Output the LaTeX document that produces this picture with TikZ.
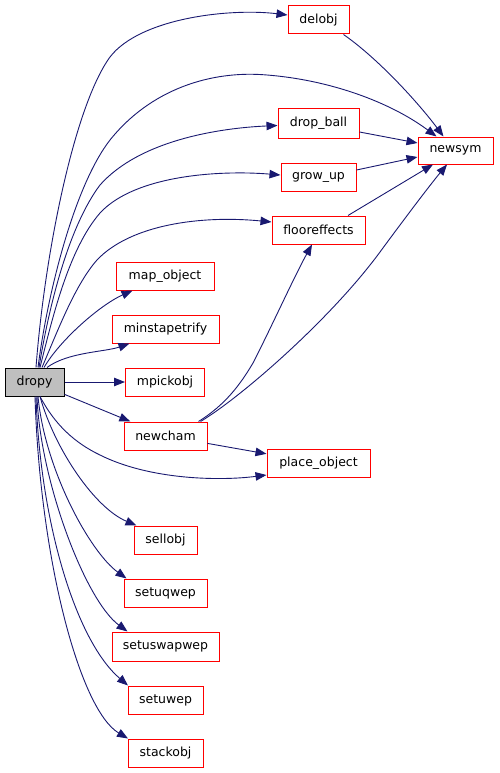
\documentclass[tikz,border=0pt]{standalone}
\usepackage{fontspec}
\setmainfont{DejaVu Sans}
\usetikzlibrary{arrows.meta}
\definecolor{edgeblue}{HTML}{191970}
\definecolor{boxgray}{HTML}{BFBFBF}
\begin{document}
\begin{tikzpicture}[x=1pt,y=-1pt,
  fn/.style={draw=red,line width=1pt,fill=white,inner sep=0pt,minimum height=28pt,font=\fontsize{12.5}{14}\selectfont},
  root/.style={draw=black,line width=1pt,fill=boxgray,inner sep=0pt,minimum height=28pt,font=\fontsize{12.5}{14}\selectfont},
  e/.style={draw=edgeblue,line width=0.9pt,-{Triangle[length=11pt,width=8.5pt]}}]
\useasboundingbox (0,0) rectangle (499,773);
% nodes
\node[root,minimum width=59pt] (dropy) at (34.5,382) {dropy};
\node[fn,minimum width=61pt] (delobj) at (318.5,20) {delobj};
\node[fn,minimum width=75pt,minimum height=27pt] (newsym) at (455.5,150.5) {newsym};
\node[fn,minimum width=81pt,minimum height=29pt] (drop_ball) at (318.5,123.5) {drop\_ball};
\node[fn,minimum width=75pt] (grow_up) at (318.5,177) {grow\_up};
\node[fn,minimum width=93pt] (flooreffects) at (318.5,230) {flooreffects};
\node[fn,minimum width=98pt] (map_object) at (165,276) {map\_object};
\node[fn,minimum width=107pt] (minstapetrify) at (165.5,329) {minstapetrify};
\node[fn,minimum width=79pt] (mpickobj) at (165,382) {mpickobj};
\node[fn,minimum width=83pt] (newcham) at (165.5,436) {newcham};
\node[fn,minimum width=103pt] (place_object) at (318.5,463) {place\_object};
\node[fn,minimum width=63pt] (sellobj) at (165.5,540) {sellobj};
\node[fn,minimum width=83pt] (setuqwep) at (165.5,593) {setuqwep};
\node[fn,minimum width=107pt,minimum height=29pt] (setuswapwep) at (165.5,646.5) {setuswapwep};
\node[fn,minimum width=75pt] (setuwep) at (165.5,700) {setuwep};
\node[fn,minimum width=75pt] (stackobj) at (165.5,753) {stackobj};
% edges from dropy (top fan)
\draw[e] ([xshift=1.5pt]dropy.north) .. controls (45,250) and (75,105) .. (110,57)
  .. controls (140,18) and (230,8) .. ([yshift=5pt]delobj.west);
\draw[e] ([xshift=3.5pt]dropy.north) .. controls (48,290) and (75,185) .. (110,140)
  .. controls (150,90) and (210,70) .. (267,75)
  .. controls (330,80) and (390,102) .. ([xshift=-19pt]newsym.north);
\draw[e] ([xshift=4.5pt]dropy.north) .. controls (50,300) and (70,225) .. (100,185)
  .. controls (140,140) and (220,128) .. ([yshift=-2pt]drop_ball.west);
\draw[e] ([xshift=5.5pt]dropy.north) .. controls (52,320) and (68,250) .. (100,213)
  .. controls (135,175) and (220,170) .. ([yshift=2pt]grow_up.west);
\draw[e] ([xshift=7.5pt]dropy.north) .. controls (58,330) and (75,285) .. (97,260)
  .. controls (130,225) and (200,215) .. ([yshift=8pt]flooreffects.west);
\draw[e] ([xshift=9.5pt]dropy.north) .. controls (60,340) and (100,305) .. ([xshift=17pt]map_object.south west);
\draw[e] ([xshift=12.5pt]dropy.north) .. controls (68,352) and (105,352) .. ([xshift=18pt]minstapetrify.south west);
\draw[e] (dropy) -- (mpickobj);
\draw[e] (dropy) -- (newcham);
% bottom fan
\draw[e] ([xshift=5.5pt]dropy.south) .. controls (55,425) and (75,443) .. (100,455)
  .. controls (150,480) and (220,481) .. ([yshift=-12pt]place_object.west);
\draw[e] ([xshift=5.5pt]dropy.south) .. controls (55,450) and (95,508) .. ([xshift=3pt]sellobj.north west);
\draw[e] ([xshift=3.5pt]dropy.south) .. controls (45,470) and (90,552) .. ([xshift=3pt]setuqwep.north west);
\draw[e] ([xshift=2.5pt]dropy.south) .. controls (40,480) and (85,600) .. ([xshift=16pt]setuswapwep.north west);
\draw[e] ([xshift=1.5pt]dropy.south) .. controls (40,520) and (75,640) .. ([xshift=0.5pt]setuwep.north west);
\draw[e] ([xshift=0.5pt]dropy.south) .. controls (40,560) and (80,710) .. ([xshift=0.5pt]stackobj.north west);
% other edges
\draw[e] (newcham) -- (place_object);
\draw[e] ([xshift=-9pt]newcham.north east) .. controls (225,405) and (240,385) .. (253,363)
  .. controls (270,330) and (295,275) .. ([xshift=-6.5pt]flooreffects.south);
\draw[e] ([xshift=-7pt]newcham.north east) .. controls (240,398) and (330,320) .. (380,252)
  .. controls (405,218) and (430,185) .. ([xshift=-8.5pt]newsym.south);
\draw[e] ([xshift=-6pt]delobj.south east) .. controls (380,60) and (420,105) .. ([xshift=-12pt]newsym.north);
\draw[e] ([yshift=-8.5pt]drop_ball.east) -- ([yshift=7.5pt]newsym.west);
\draw[e] ([yshift=7pt]grow_up.east) -- ([yshift=-6.5pt]newsym.west);
\draw[e] ([xshift=29.5pt]flooreffects.north) -- ([xshift=-22.5pt]newsym.south);
\end{tikzpicture}
\end{document}
